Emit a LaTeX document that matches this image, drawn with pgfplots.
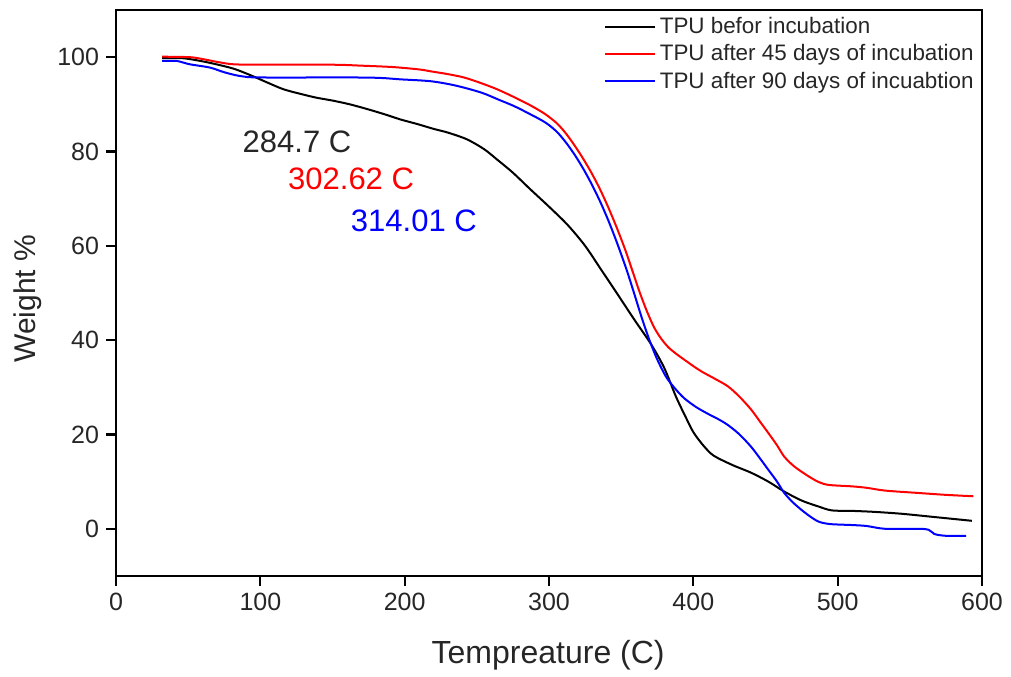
\documentclass[border=0pt]{standalone}
\usepackage{pgfplots}
\pgfplotsset{compat=1.18}
\usepackage{fontspec}
\setmainfont{Liberation Sans}
\definecolor{tgray}{RGB}{38,38,38}
\begin{document}
\begin{tikzpicture}
\begin{axis}[
  scale only axis,
  width=433pt, height=283pt,
  xmin=0, xmax=600, ymin=-10, ymax=110,
  xtick={0,100,...,600}, ytick={0,20,...,100},
  axis line style={line width=1.2pt},
  tick style={line width=1.1pt, black},
  tick align=outside, major tick length=5pt,
  xtick pos=bottom, ytick pos=left,
  minor tick num=0,
  /pgf/number format/assume math mode=true,
  tick label style={font=\fontsize{12.5}{14}\selectfont, text=tgray},
  xlabel={Tempreature (C)},
  ylabel={Weight \%},
  xlabel style={at={(axis description cs:0.499,-0.1396)}, anchor=center, font=\fontsize{16}{18}\selectfont, text=tgray},
  ylabel style={at={(axis description cs:-0.1016,0.49)}, anchor=center, font=\fontsize{15}{18}\selectfont, text=tgray},
  legend style={at={(1,1)}, anchor=north east, draw=none, fill=none,
    font=\fontsize{11.2}{13}\selectfont, text=tgray, row sep=0pt,
    inner xsep=2pt, inner ysep=1.5pt, cells={anchor=west}},
  legend image code/.code={\draw[#1, line width=1pt] (0pt,0pt) -- (25pt,0pt);},
  every axis plot/.append style={line width=1pt},
  clip=false,
]
\addplot[black, smooth] coordinates {
(32,99.8)(45,99.8)(53,99.5)(65,98.8)(81,97.6)(93,96.2)(105,94.6)(116,93.2)(128,92.2)(139,91.4)(150,90.8)(162,90.0)(174,89.0)(186,87.9)(197,86.8)(209,85.8)(220,84.8)(230,84.0)(243,82.6)(255,80.5)(264,78.3)(275,75.5)(287,72.0)(300,68.3)(313,64.4)(325,60.0)(336,55.0)(348,49.5)(359,44.4)(371,39)(380,34)(388,28.0)(395,23.5)(400,20.5)(406,18.0)(412,16.0)(417,15.0)(428,13.4)(440,11.9)(452,10.0)(463,7.9)(475,6.0)(487,4.7)(496,3.9)(510,3.8)(525,3.6)(544,3.2)(567,2.5)(580,2.1)(593,1.7)
};
\addlegendentry{TPU befor incubation}
\addplot[red, smooth] coordinates {
(32,100.1)(51,100)(60,99.6)(70,99)(81,98.5)(100,98.4)(150,98.4)(170,98.2)(192,97.9)(210,97.4)(218,97.0)(230,96.4)(241,95.7)(252,94.6)(264,93.2)(276,91.5)(287,89.8)(297,88.0)(305,86.1)(311,84.1)(317,81.6)(323,78.8)(329,75.7)(335,72.2)(341,68.2)(347,63.8)(353,59.0)(358,54.5)(363,50.0)(368,46.0)(373,42.6)(378,40.2)(383,38.4)(389,36.9)(394,35.8)(400,34.5)(406,33.3)(415,31.8)(424,30.2)(432,28)(440,25.3)(446,22.8)(452,20.3)(458,17.7)(463,15.3)(470,13.2)(480,11.1)(487,9.9)(494,9.3)(510,9.0)(520,8.7)(533,8.1)(556,7.6)(575,7.2)(594,6.9)
};
\addlegendentry{TPU after 45 days of incubation}
\addplot[blue, smooth] coordinates {
(32,99.2)(42,99.2)(51,98.5)(65,97.8)(75,96.8)(86,96.0)(100,95.7)(162,95.7)(183,95.6)(197,95.3)(218,94.9)(235,94.0)(253,92.5)(265,91)(276,89.6)(287,87.9)(295,86.6)(300,85.6)(306,84.0)(312,81.8)(318,79.2)(324,76.2)(330,72.8)(336,69.0)(342,64.7)(348,59.9)(354,54.7)(359,49.9)(364,45.0)(369,40.5)(374,36.6)(378,34.0)(382,31.8)(388,29.5)(394,27.6)(402,25.8)(410,24.4)(417,23.3)(424,22.0)(432,20.0)(440,17.4)(446,15.0)(452,12.5)(458,10.0)(463,7.6)(469,5.6)(475,4.0)(481,2.6)(487,1.5)(495,1.0)(510,0.8)(520,0.6)(533,0.0)(556,0.0)(563,-0.2)(567,-1.1)(572,-1.4)(577,-1.5)(589,-1.5)
};
\addlegendentry{TPU after 90 days of incuabtion}
\node[anchor=west, font=\fontsize{15.5}{18}\selectfont, text=tgray, inner sep=0pt] at (axis cs:87.5,82) {284.7 C};
\node[anchor=west, font=\fontsize{15.5}{18}\selectfont, text=red, inner sep=0pt] at (axis cs:119,74.1) {302.62 C};
\node[anchor=west, font=\fontsize{15.5}{18}\selectfont, text=blue, inner sep=0pt] at (axis cs:162.5,65.2) {314.01 C};
\coordinate (bl) at (axis description cs:-0.134,-0.1749);
\coordinate (tr) at (axis description cs:1.0335,1.0177);
\end{axis}
\path (bl) rectangle (tr);
\end{tikzpicture}
\end{document}
